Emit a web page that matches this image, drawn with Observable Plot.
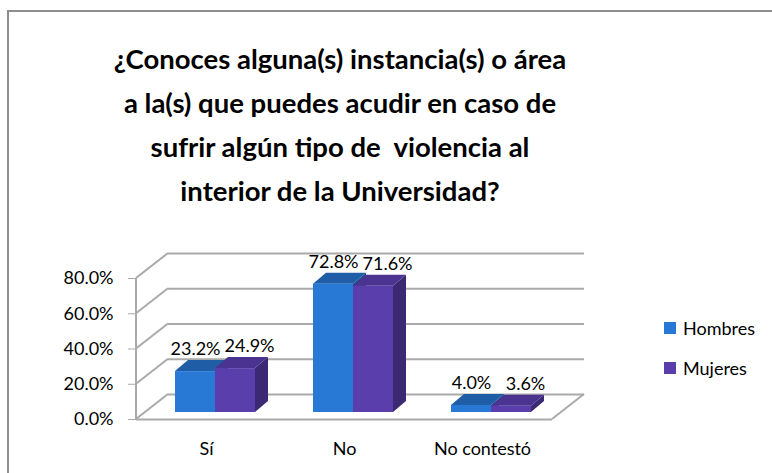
<!DOCTYPE html>
<html><head><meta charset="utf-8">
<script src="https://cdn.jsdelivr.net/npm/d3@7"></script>
<script src="https://cdn.jsdelivr.net/npm/@observablehq/plot@0.6"></script>
<style>
html,body{margin:0;padding:0;background:#fff;}
#wrap{position:relative;width:772px;height:473px;overflow:hidden;font-family:Lato,sans-serif;background:#fff;}
#frame{position:absolute;left:7px;top:10px;width:800px;height:500px;border-top:2px solid #8e8e8e;border-left:2px solid #8e8e8e;}
#title{position:absolute;left:40px;width:600px;top:37px;text-align:center;font-weight:700;font-size:27.5px;line-height:44px;color:#000;white-space:pre;}
#chart{position:absolute;left:0;top:232px;}
#legend{position:absolute;left:664px;top:316px;font-size:18px;color:#000;}
.item{display:flex;align-items:center;height:24px;margin-bottom:16px;}
.sw{width:12px;height:12px;margin-right:7px;}
</style></head><body>
<div id="wrap">
  <div id="frame"></div>
  <div id="title"></div>
  <div id="chart"></div>
  <div id="legend"></div>
</div>
<script>
const titleLines = [
  "¿Conoces alguna(s) instancia(s) o área",
  "a la(s) que puedes acudir en caso de",
  "sufrir algún tipo de  violencia al",
  "interior de la Universidad?"
];
const categories = ["Sí", "No", "No contestó"];
const series = ["Hombres", "Mujeres"];
const hombres = [23.2, 72.8, 4.0];
const mujeres = [24.9, 71.6, 3.6];
const yTicks = [0, 20, 40, 60, 80];
const palette = {
  Hombres: {front: "#2878d6", top: "#1f5ea6", side: "#1b4f8e"},
  Mujeres: {front: "#5a3eab", top: "#4a3391", side: "#3b2a73"}
};

document.getElementById("title").textContent = titleLines.join("\n");

const data = categories.flatMap((c, i) => [
  {category: c, series: "Hombres", value: hombres[i]},
  {category: c, series: "Mujeres", value: mujeres[i]}
]);
const H = data.filter(d => d.series === "Hombres");
const M = data.filter(d => d.series === "Mujeres");

// 3D offsets (pixels)
const FX = 9, FY = -7;     // bar front plane offset
const DX = 13, DY = -11;   // bar depth
const BX = 32, BY = -25;   // back wall offset
const GRID = "#aaaaaa";

function walls(index, scales, values, dim) {
  const y = scales.y;
  const L = dim.marginLeft, R = dim.width - dim.marginRight;
  const g = d3.create("svg:g").attr("stroke", GRID).attr("stroke-width", 2).attr("fill", "none");
  for (const t of yTicks) {
    g.append("line").attr("x1", L).attr("y1", y(t)).attr("x2", L + BX).attr("y2", y(t) + BY);
  }
  g.append("line").attr("x1", L).attr("y1", y(0)).attr("x2", L).attr("y2", y(yTicks[yTicks.length - 1]));
  g.append("line").attr("x1", R).attr("y1", y(0)).attr("x2", R + BX).attr("y2", y(0) + BY);
  return g.node();
}

function faces(index, scales, values, dim) {
  const x = scales.x, y = scales.y, bw = x.bandwidth();
  const g = d3.create("svg:g");
  for (const s of series) {
    for (const d of data.filter(d => d.series === s)) {
      const left = x(d.category) + (s === "Hombres" ? -bw / 2 : bw / 2) + FX;
      const right = left + bw;
      const top = y(d.value) + FY, bottom = y(0) + FY;
      g.append("polygon")
        .attr("points", [[right, top], [right + DX, top + DY], [right + DX, bottom + DY], [right, bottom]].join(" "))
        .attr("fill", palette[s].side);
      g.append("polygon")
        .attr("points", [[left, top], [right, top], [right + DX, top + DY], [left + DX, top + DY]].join(" "))
        .attr("fill", palette[s].top);
    }
  }
  return g.node();
}

const fmt = v => v.toFixed(1) + "%";

const chart = Plot.plot({
  width: 772,
  height: 241,
  marginLeft: 136,
  marginRight: 220,
  marginTop: 46,
  marginBottom: 54,
  style: {fontFamily: "Lato, sans-serif", fontSize: "18px", color: "#000", background: "transparent", overflow: "visible"},
  x: {domain: categories, paddingInner: 0.71154, paddingOuter: 0.35577, axis: null},
  y: {domain: [0, 80], axis: null},
  marks: [
    Plot.ruleY(yTicks, {dx: BX, dy: BY, stroke: GRID, strokeWidth: 2}),
    walls,
    Plot.ruleY([0], {stroke: GRID, strokeWidth: 2}),
    Plot.axisY(yTicks, {tickFormat: fmt, tickSize: 8, tickPadding: 15, stroke: GRID, fill: "#000", label: null, fontSize: 18}),
    Plot.axisX({tickSize: 0, tickPadding: 23, label: null, fill: "#000", fontSize: 18}),
    faces,
    Plot.barY(H, {x: "category", y: "value", fill: palette.Hombres.front, dx: -20 + FX, dy: FY}),
    Plot.barY(M, {x: "category", y: "value", fill: palette.Mujeres.front, dx: 20 + FX, dy: FY}),
    Plot.text(H, {x: "category", y: "value", text: d => fmt(d.value), dx: -20 + FX, dy: FY + DY - 5.5, lineAnchor: "bottom", fill: "#000", fontSize: 18}),
    Plot.text(M, {x: "category", y: "value", text: d => fmt(d.value), dx: 20 + FX + 14, dy: FY + DY - 5.5, lineAnchor: "bottom", fill: "#000", fontSize: 18})
  ]
});
document.getElementById("chart").appendChild(chart);

const legend = document.getElementById("legend");
for (const s of series) {
  const item = document.createElement("div");
  item.className = "item";
  const sw = document.createElement("div");
  sw.className = "sw";
  sw.style.background = palette[s].front;
  const label = document.createElement("span");
  label.textContent = s;
  item.appendChild(sw);
  item.appendChild(label);
  legend.appendChild(item);
}
</script>
</body></html>
